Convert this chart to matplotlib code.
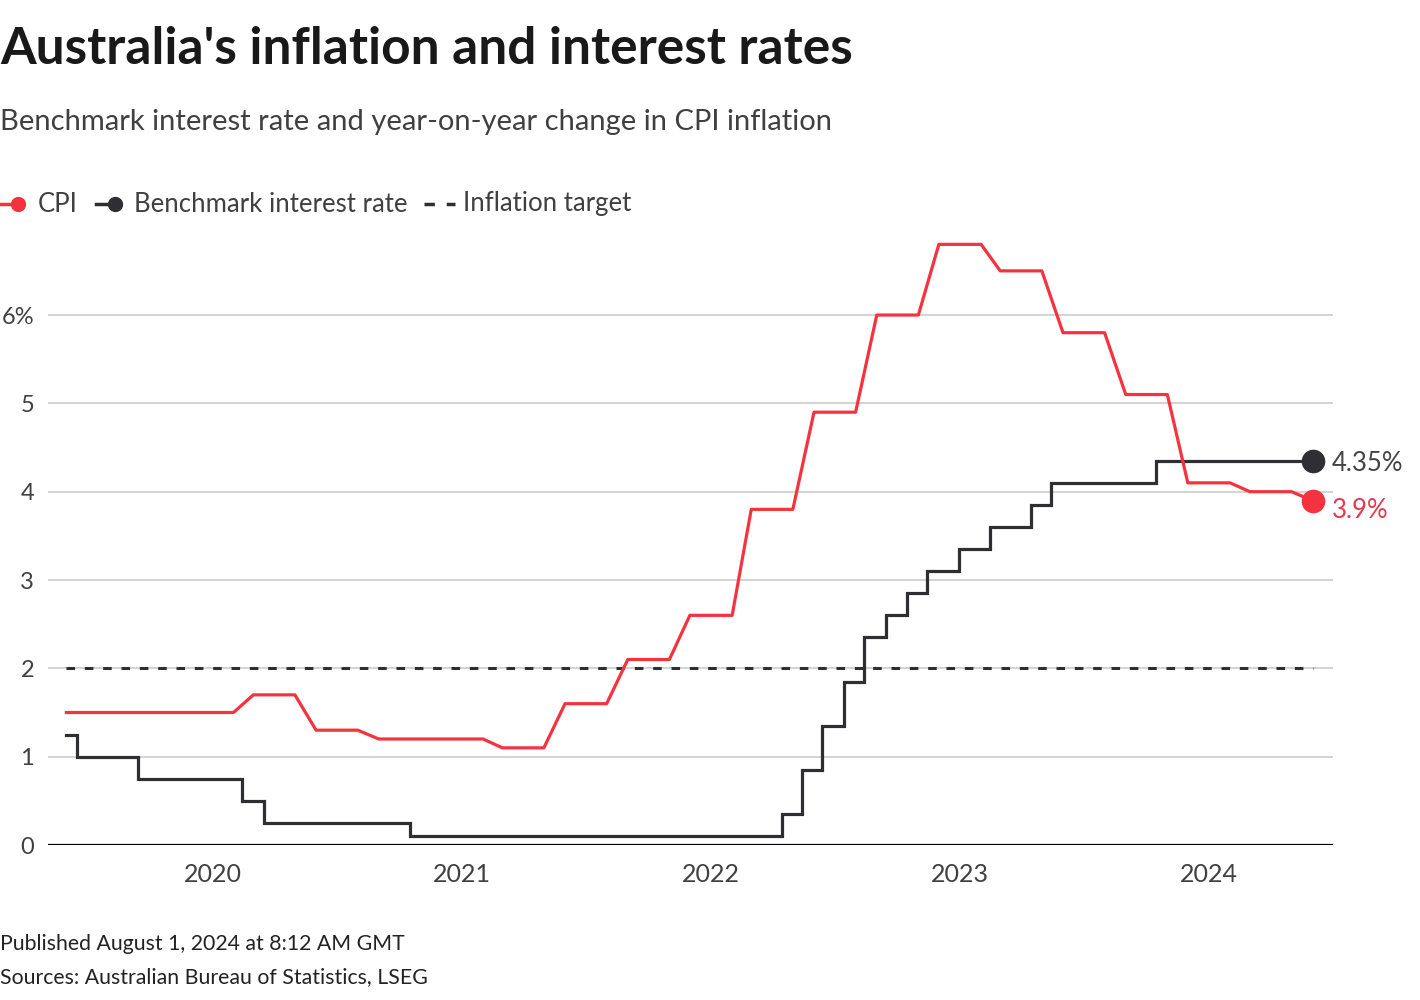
import pandas as pd
import matplotlib
matplotlib.use("Agg")
import matplotlib.pyplot as plt
from matplotlib.lines import Line2D

plt.rcParams['font.family'] = ['Lato', 'DejaVu Sans']

# CPI, year-on-year %, monthly (each quarterly value held for three months)
cpi_dates = pd.date_range("2019-06-01", "2024-06-01", freq="MS")
cpi = ([1.5] * 9 + [1.7] * 3 + [1.3] * 3 + [1.2] * 6 + [1.1] * 3 + [1.6] * 3
       + [2.1] * 3 + [2.6] * 3 + [3.8] * 3 + [4.9] * 3 + [6.0] * 3 + [6.8] * 3
       + [6.5] * 3 + [5.8] * 3 + [5.1] * 3 + [4.1] * 3 + [4.0] * 3 + [3.9])

# benchmark cash rate, changes as drawn
rate_dates = pd.to_datetime([
    "2019-06-01", "2019-06-16", "2019-09-14", "2020-02-14", "2020-03-16",
    "2020-10-16", "2022-04-15", "2022-05-15", "2022-06-13", "2022-07-15",
    "2022-08-14", "2022-09-14", "2022-10-15", "2022-11-14", "2022-12-31",
    "2023-02-14", "2023-04-15", "2023-05-15", "2023-10-15", "2024-06-01"])
rate = [1.25, 1.0, 0.75, 0.5, 0.25, 0.1, 0.35, 0.85, 1.35, 1.85, 2.35, 2.6,
        2.85, 3.1, 3.35, 3.6, 3.85, 4.1, 4.35, 4.35]

target = 2.0
y_ticks = [0, 1, 2, 3, 4, 5, 6]
y_labels = ["0", "1", "2", "3", "4", "5", "6%"]
year_ticks = pd.to_datetime(["2020-01-01", "2021-01-01", "2022-01-01",
                             "2023-01-01", "2024-01-01"])
year_labels = ["2020", "2021", "2022", "2023", "2024"]

red = "#f5333f"
dark = "#2f2f33"
txt = "#404040"

fig = plt.figure(figsize=(14.2, 10), dpi=100)
fig.set_facecolor('white')
ax = fig.add_axes([0.0338, 0.155, 0.905, 0.6183])

for y in y_ticks[1:]:
    ax.axhline(y, color="#c8c8c8", lw=1.1, zorder=1)
ax.axhline(0, color="black", lw=1.6, zorder=2)

ax.plot([cpi_dates[0], cpi_dates[-1]], [target, target], color=dark, lw=2.2,
        dashes=(2.8, 3.2), zorder=3)
ax.step(rate_dates, rate, where="post", color=dark, lw=2.3,
        solid_joinstyle="miter", zorder=4)
ax.plot(cpi_dates, cpi, color=red, lw=2.3, zorder=5)

ax.plot(rate_dates[-1], rate[-1], "o", color=dark, ms=16, zorder=6)
ax.plot(cpi_dates[-1], cpi[-1], "o", color=red, ms=16, zorder=6)
ax.annotate("4.35%", (rate_dates[-1], rate[-1]), xytext=(19, -3),
            textcoords="offset pixels", va="center", ha="left",
            fontsize=18.5, color="#444444")
ax.annotate("3.9%", (cpi_dates[-1], cpi[-1]), xytext=(19, -10),
            textcoords="offset pixels", va="center", ha="left",
            fontsize=18.5, color="#e23a4e")

ax.set_xlim(pd.Timestamp("2019-05-05"), pd.Timestamp("2024-07-01"))
ax.set_ylim(0, 7)
ax.set_yticks(y_ticks, y_labels)
ax.set_xticks(year_ticks, year_labels)
ax.tick_params(axis="both", length=0, labelsize=18, labelcolor=txt)
ax.tick_params(axis="y", pad=10, labelsize=17)
ax.tick_params(axis="x", pad=13)
for s in ax.spines.values():
    s.set_visible(False)

# titles
fig.text(0.0, 0.95, "Australia's inflation and interest rates", fontsize=37,
         fontweight="bold", color="#191919", va="center", ha="left")
fig.text(0.0, 0.878, "Benchmark interest rate and year-on-year change in CPI inflation",
         fontsize=21, color=txt, va="center", ha="left")

# legend
ly = 1 - 204 / 1000
def fx(px):
    return px / 1420

fig.add_artist(Line2D([fx(0), fx(16)], [ly, ly], color=red, lw=2.5))
fig.add_artist(Line2D([fx(18)], [ly], marker="o", color=red, ms=10))
fig.text(fx(38), ly, "CPI", fontsize=18.5, color=txt, va="center", ha="left")
fig.add_artist(Line2D([fx(96), fx(113)], [ly, ly], color=dark, lw=2.5))
fig.add_artist(Line2D([fx(115)], [ly], marker="o", color=dark, ms=10))
fig.text(fx(134), ly, "Benchmark interest rate", fontsize=18.5, color=txt,
         va="center", ha="left")
fig.add_artist(Line2D([fx(424), fx(455)], [ly, ly], color=dark, lw=2.5,
                      dashes=(3.0, 3.4)))
fig.text(fx(463), ly, "Inflation target", fontsize=18.5, color=txt,
         va="center", ha="left")

# footer
fig.text(0.0, 1 - 944 / 1000, "Published August 1, 2024 at 8:12 AM GMT",
         fontsize=15.3, color="#222222", va="center", ha="left")
fig.text(0.0, 1 - 977 / 1000, "Sources: Australian Bureau of Statistics, LSEG",
         fontsize=15.3, color="#222222", va="center", ha="left")

fig.savefig("out.png", dpi=100, facecolor="white")
